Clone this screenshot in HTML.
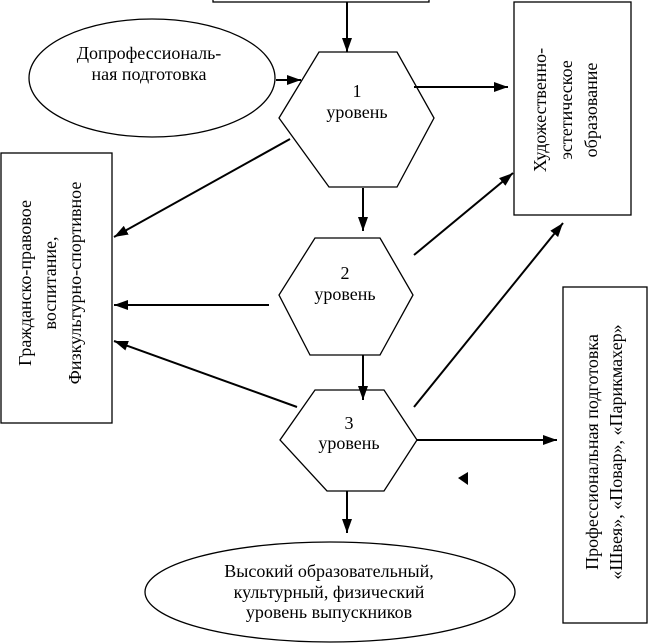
<!DOCTYPE html>
<html><head><meta charset="utf-8"><style>
html,body{margin:0;padding:0;background:#fff;}
svg{display:block;}
text{font-family:"Liberation Serif","Times New Roman","DejaVu Serif",serif;font-size:18px;fill:#000;}
</style></head><body>
<svg width="649" height="643" viewBox="0 0 649 643" xmlns="http://www.w3.org/2000/svg" font-family="Liberation Serif, DejaVu Serif, serif">
<defs>
<marker id="b" markerWidth="14" markerHeight="10" refX="14" refY="5" orient="auto" markerUnits="userSpaceOnUse">
<path d="M0,0 L14,5 L0,10 Z" fill="#000"/></marker>
</defs>
<g stroke="#000" stroke-width="1.3" fill="none">
<rect x="213" y="-2" width="216" height="4"/>
<ellipse cx="152" cy="78" rx="123" ry="59"/>
<polygon points="319,52 397,52 434,118 397,187 329,187 279,118"/>
<rect x="514" y="2" width="117" height="213"/>
<rect x="1" y="153" width="111" height="270"/>
<polygon points="315,238 380,238 413,295 380,355 310,355 279,295"/>
<polygon points="315,390 384,390 417,440 384,491 327,491 280,440"/>
<ellipse cx="330" cy="592" rx="185" ry="50"/>
<rect x="563" y="287" width="84" height="336"/>
</g>
<g stroke="#000" stroke-width="2" fill="none">
<line x1="347" y1="2" x2="347" y2="52" marker-end="url(#b)"/>
<line x1="276" y1="80" x2="301" y2="80" marker-end="url(#b)"/>
<line x1="414" y1="87" x2="508" y2="87" marker-end="url(#b)"/>
<line x1="290" y1="139" x2="114" y2="237" marker-end="url(#b)"/>
<line x1="363" y1="188" x2="363" y2="231" marker-end="url(#b)"/>
<line x1="269" y1="305" x2="114" y2="305" marker-end="url(#b)"/>
<line x1="414" y1="255" x2="513" y2="173" marker-end="url(#b)"/>
<line x1="414" y1="407" x2="563" y2="223" marker-end="url(#b)"/>
<line x1="363" y1="355" x2="363" y2="400" marker-end="url(#b)"/>
<line x1="297" y1="407" x2="114" y2="341" marker-end="url(#b)"/>
<line x1="417" y1="440" x2="557" y2="440" marker-end="url(#b)"/>
<line x1="347" y1="491" x2="347" y2="533" marker-end="url(#b)"/>
</g>
<path d="M468,472 L458,478 L468,485 Z" fill="#000"/>
<text x="149" y="59" text-anchor="middle">Допрофессиональ-</text>
<text x="149" y="80" text-anchor="middle">ная подготовка</text>
<text x="357" y="97" text-anchor="middle">1</text>
<text x="357" y="118" text-anchor="middle">уровень</text>
<text x="345" y="279" text-anchor="middle">2</text>
<text x="345" y="300" text-anchor="middle">уровень</text>
<text x="349" y="429" text-anchor="middle">3</text>
<text x="349" y="449" text-anchor="middle">уровень</text>
<text x="329" y="577" text-anchor="middle">Высокий образовательный,</text>
<text x="329" y="598" text-anchor="middle">культурный, физический</text>
<text x="329" y="618" text-anchor="middle">уровень выпускников</text>
<g transform="translate(566,110) rotate(-90)">
<text x="0" y="-20" text-anchor="middle">Художественно-</text>
<text x="0" y="6" text-anchor="middle">эстетическое</text>
<text x="0" y="31" text-anchor="middle">образование</text>
</g>
<g transform="translate(52,283) rotate(-90)">
<text x="0" y="-21" text-anchor="middle">Гражданско-правовое</text>
<text x="0" y="4" text-anchor="middle">воспитание,</text>
<text x="0" y="29" text-anchor="middle">Физкультурно-спортивное</text>
</g>
<g transform="translate(605,452) rotate(-90)">
<text x="0" y="-7" text-anchor="middle">Профессиональная подготовка</text>
<text x="0" y="17" text-anchor="middle">«Швея», «Повар», «Парикмахер»</text>
</g>
</svg>
</body></html>
